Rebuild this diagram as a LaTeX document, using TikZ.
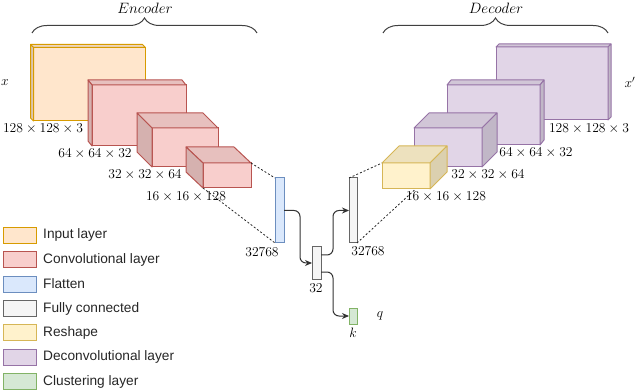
\RequirePackage{fix-cm}
\documentclass[tikz,border=0pt]{standalone}
\usepackage{fontspec}
\newfontfamily\legfont{Liberation Sans}
\usetikzlibrary{calc,arrows.meta,decorations.pathreplacing}
\definecolor{inpF}{HTML}{FFE6CC}\definecolor{inpD}{HTML}{D79B00}
\definecolor{convF}{HTML}{F8CECC}\definecolor{convD}{HTML}{B85450}
\definecolor{flatF}{HTML}{DAE8FC}\definecolor{flatD}{HTML}{6C8EBF}
\definecolor{fcF}{HTML}{F5F5F5}\definecolor{fcD}{HTML}{666666}
\definecolor{rsF}{HTML}{FFF2CC}\definecolor{rsD}{HTML}{D6B656}
\definecolor{deconvF}{HTML}{E1D5E7}\definecolor{deconvD}{HTML}{9673A6}
\definecolor{clF}{HTML}{D5E8D4}\definecolor{clD}{HTML}{82B366}
\tikzset{
  lbl/.style={font=\fontsize{13.6}{16}\selectfont, inner sep=0pt},
  ttl/.style={font=\fontsize{15}{18}\selectfont, inner sep=0pt},
  legtxt/.style={font=\fontsize{13.7}{16}\selectfont\legfont, inner sep=0pt, anchor=west, text=black!85},
  swatch/.style={line width=1pt, inner sep=0pt, outer sep=0pt, minimum width=33pt, minimum height=16pt},
  bar/.style={line width=1pt, inner sep=0pt, outer sep=0pt},
  arr/.style={-{Stealth[length=7pt,width=6pt]}, line width=1pt, draw=black!80, rounded corners=6pt},
  dotline/.style={dash pattern=on 2pt off 2pt, line width=0.8pt, draw=black!85},
  bracestyle/.style={decorate, decoration={brace, amplitude=15pt}, line width=1pt, draw=black!75},
}
% name, x1, y1, x2, y2, dx, dy, colour key, side (west/east)
\newcommand{\boxcube}[9]{%
  \node[draw=#8D, fill=#8F, line width=1pt, inner sep=0pt, outer sep=0pt,
        minimum width={(#4-#2)*1pt}, minimum height={(#5-#3)*1pt}]
        (#1) at ({(#2+#4)/2},{(#3+#5)/2}) {};
  \filldraw[draw=#8D, fill=#8F!93!black, line width=1pt, line join=round]
    (#1.north west) -- ++(#6,#7) -- ($(#1.north east)+(#6,#7)$) -- (#1.north east) -- cycle;
  \filldraw[draw=#8D, fill=#8F!86!black, line width=1pt, line join=round]
    (#1.north #9) -- ++(#6,#7) -- ($(#1.south #9)+(#6,#7)$) -- (#1.south #9) -- cycle;
}
\begin{document}
\begin{tikzpicture}[x=1pt,y=-1pt]
\useasboundingbox (0,0) rectangle (640,390);
% encoder
\boxcube{inp}{33.5}{47.5}{145.5}{121}{-3}{-3}{inp}{west}
\boxcube{ca}{92}{85}{186}{146}{-4}{-5}{conv}{west}
\boxcube{cb}{152}{128}{218}{167}{-15}{-15}{conv}{west}
\boxcube{cc}{203}{163}{251}{188}{-17}{-16}{conv}{west}
% decoder
\boxcube{dc}{496}{47}{608}{120}{3}{-3}{deconv}{east}
\boxcube{db}{447}{85}{540}{145}{4}{-5}{deconv}{east}
\boxcube{da}{414}{128}{482}{167}{15}{-15}{deconv}{east}
\boxcube{rs}{382}{163}{430}{189}{17}{-17}{rs}{east}
% bars
\node[bar, draw=flatD, fill=flatF, minimum width=9pt, minimum height=65pt] (flat) at (279.5,210.5) {};
\node[bar, draw=fcD, fill=fcF, minimum width=9pt, minimum height=32pt] (fca) at (316.5,263) {};
\node[bar, draw=fcD, fill=fcF, minimum width=8pt, minimum height=65pt] (fcb) at (353,210.5) {};
\node[bar, draw=clD, fill=clF, minimum width=8pt, minimum height=16pt] (cl) at (353,316) {};
% dashed links
\draw[dotline] (cc.north east) -- (flat.north west);
\draw[dotline] (cc.south west) -- (flat.south west);
\draw[dotline] (fcb.north west) -- (rs.north west);
\draw[dotline] (fcb.south east) -- ($(rs.south west)!0.7!(rs.south east)$);
% arrows
\draw[arr] (flat.east) -- ++(16,0) |- (fca.west);
\draw[arr] ($(fca.east)+(0,-8)$) -- ++(12,0) |- (fcb.west);
\draw[arr] ($(fca.east)+(0,9)$) -- ++(12,0) |- (cl.west);
% labels
\node[lbl] (lx) at (5,83) {$x$};
\node[lbl] (l1) at (43,129) {$128\times128\times3$};
\node[lbl] (l2) at (95,154) {$64\times64\times32$};
\node[lbl] (l3) at (145,175) {$32\times32\times64$};
\node[lbl] (l4) at (186,197) {$16\times16\times128$};
\node[lbl] (l5) at (262,252) {$32768$};
\node[lbl] (l6) at (316,288) {$32$};
\node[lbl] (l7) at (368,251) {$32768$};
\node[lbl] (lk) at (353,333) {$k$};
\node[lbl] (lq) at (380,316) {$q$};
\node[lbl] (m4) at (446,197) {$16\times16\times128$};
\node[lbl] (m3) at (488,175) {$32\times32\times64$};
\node[lbl] (m2) at (536,153) {$64\times64\times32$};
\node[lbl] (m1) at (589,129) {$128\times128\times3$};
\node[lbl] (lxp) at (630,82) {$x'$};
% braces
\coordinate (eb1) at (32,33); \coordinate (eb2) at (257,33);
\coordinate (db1) at (383,33); \coordinate (db2) at (608,33);
\draw[bracestyle] (eb1) -- (eb2);
\draw[bracestyle] (db1) -- (db2);
\node[ttl] (enc) at (145,8) {$Encoder$};
\node[ttl] (dec) at (496,8) {$Decoder$};
% legend
\foreach \i/\f/\d/\t in {0/inpF/inpD/Input layer, 1/convF/convD/Convolutional layer, 2/flatF/flatD/Flatten, 3/fcF/fcD/Fully connected, 4/rsF/rsD/Reshape, 5/deconvF/deconvD/Deconvolutional layer, 6/clF/clD/Clustering layer}{
  \node[swatch, draw=\d, fill=\f] (sw\i) at (19.5,{235.3+24.4*\i}) {};
  \node[legtxt] (lt\i) at (43,{235.3+24.4*\i}) {\t};
}
\end{tikzpicture}
\end{document}
